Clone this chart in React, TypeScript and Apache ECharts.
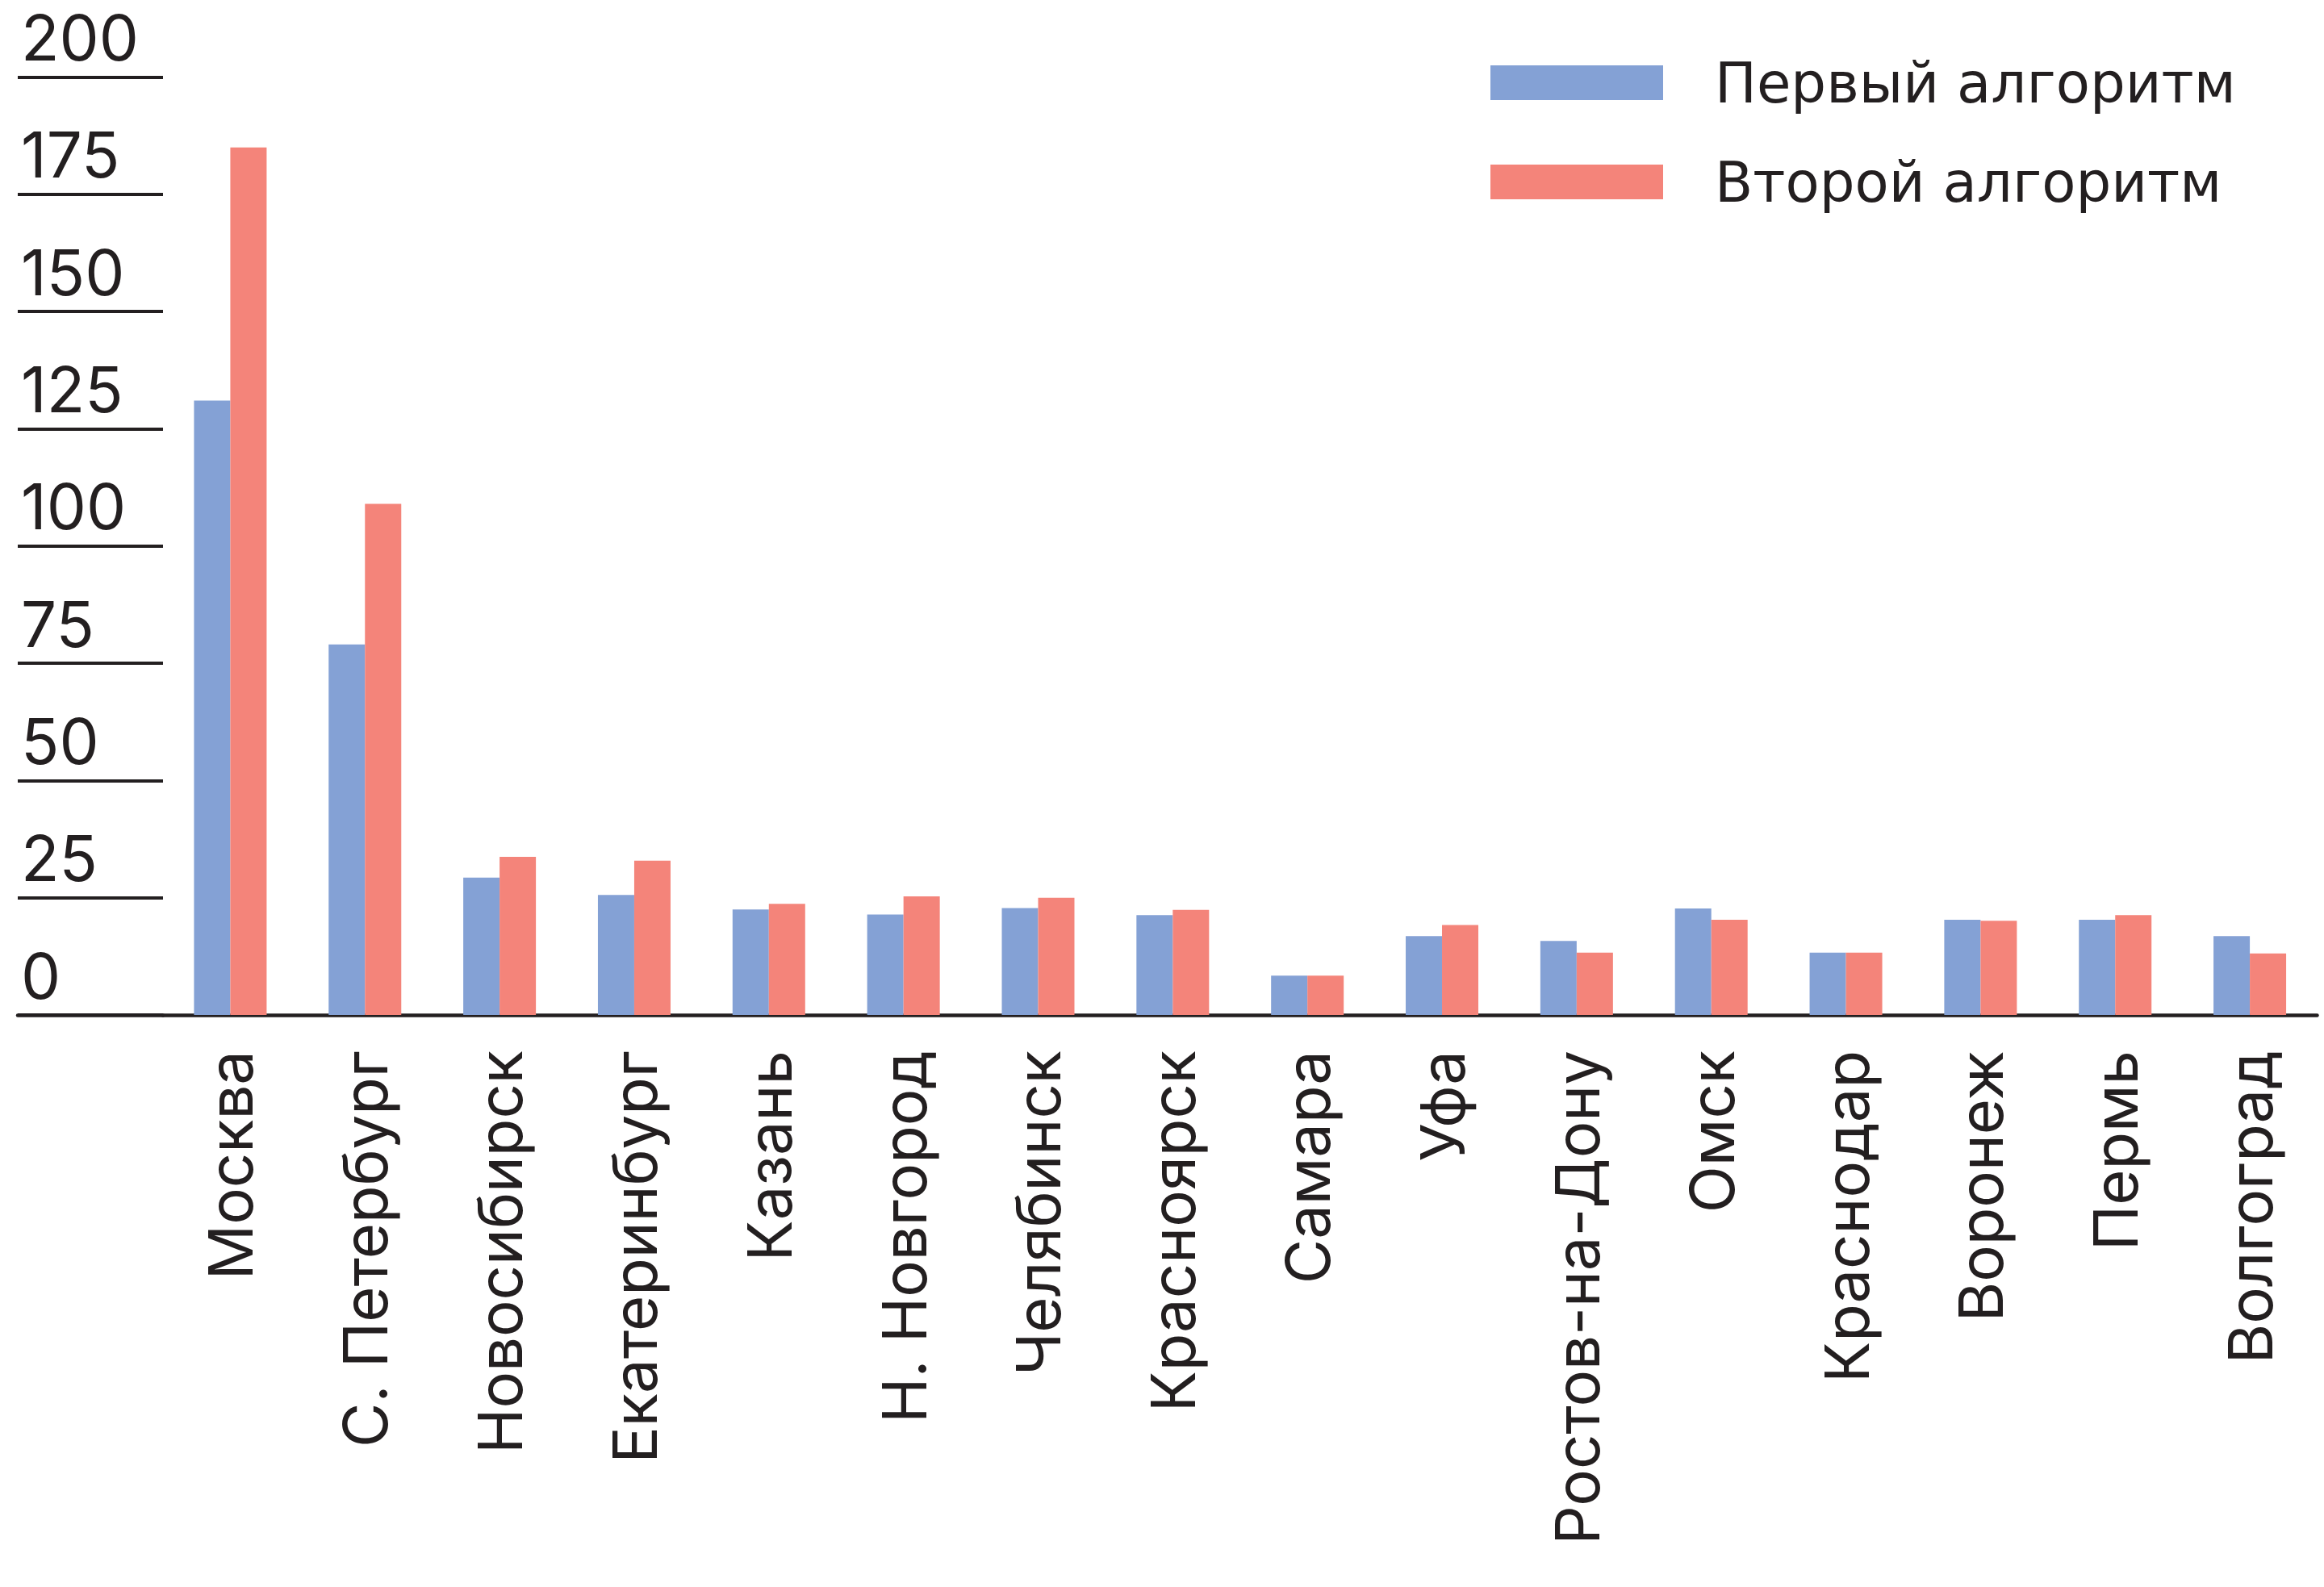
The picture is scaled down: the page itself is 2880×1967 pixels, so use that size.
import React, { useEffect, useRef } from "react";
import * as echarts from "echarts";

const categories = [
  "Москва",
  "С. Петербург",
  "Новосибирск",
  "Екатеринбург",
  "Казань",
  "Н. Новгород",
  "Челябинск",
  "Красноярск",
  "Самара",
  "Уфа",
  "Ростов-на-Дону",
  "Омск",
  "Краснодар",
  "Воронеж",
  "Пермь",
  "Волгоград",
];
const seriesNames = ["Первый алгоритм", "Второй алгоритм"];
const firstAlgo = [131, 79, 29.3, 25.6, 22.5, 21.4, 22.8, 21.3, 8.4, 16.8, 15.8, 22.7, 13.3, 20.3, 20.3, 16.8];
const secondAlgo = [185, 109, 33.7, 32.9, 23.7, 25.3, 25.0, 22.4, 8.4, 19.2, 13.3, 20.3, 13.3, 20.1, 21.3, 13.1];
const yMin = 0;
const yMax = 200;
const yStep = 25;

const INK = "#231F20";
const BLUE = "#84A1D5";
const RED = "#F4847A";

export default function App() {
  const ref = useRef<HTMLDivElement>(null);
  useEffect(() => {
    document.body.style.margin = "0";
    if (!ref.current) return;
    const chart = echarts.init(ref.current, undefined, { renderer: "svg" });
    const top = 95.5;
    const bottom = 709;
    chart.setOption({
      animation: false,
      backgroundColor: "#ffffff",
      textStyle: { fontFamily: "Inter" },
      legend: {
        orient: "vertical",
        left: 1847,
        top: 68,
        padding: 0,
        itemWidth: 214,
        itemHeight: 43,
        itemGap: 54,
        icon: "rect",
        data: seriesNames,
        textStyle: {
          fontFamily: "DejaVu Sans",
          fontSize: 69,
          color: INK,
          lineHeight: 43,
          padding: [0, 0, 0, 59],
        },
      },
      grid: [
        { left: 22, width: 180, top, bottom },
        { left: 202, right: 8.5, top, bottom },
      ],
      xAxis: [
        {
          gridIndex: 0,
          type: "category",
          data: [""],
          axisLine: { show: true, lineStyle: { color: INK, width: 4.5 } },
          axisTick: { show: false },
          axisLabel: { show: false },
        },
        {
          gridIndex: 1,
          type: "category",
          data: categories,
          axisLine: { show: true, lineStyle: { color: INK, width: 4.5 } },
          axisTick: { show: false },
          axisLabel: {
            interval: 0,
            rotate: 90,
            margin: 44,
            fontFamily: "Inter",
            fontSize: 76,
            color: INK,
          },
        },
      ],
      yAxis: [
        {
          gridIndex: 0,
          type: "value",
          min: yMin,
          max: yMax,
          interval: yStep,
          axisLine: { show: false },
          axisTick: { show: false },
          splitLine: { show: true, lineStyle: { color: INK, width: 4 } },
          axisLabel: {
            inside: true,
            margin: 4,
            align: "left",
            verticalAlign: "bottom",
            lineHeight: 70,
            padding: [0, 0, 14, 0],
            fontFamily: "Inter",
            fontSize: 78,
            color: INK,
          },
        },
        {
          gridIndex: 1,
          type: "value",
          min: yMin,
          max: yMax,
          interval: yStep,
          show: false,
          splitLine: { show: false },
        },
      ],
      series: [
        {
          name: seriesNames[0],
          type: "bar",
          xAxisIndex: 1,
          yAxisIndex: 1,
          data: firstAlgo,
          barWidth: 45,
          barGap: "0%",
          itemStyle: { color: BLUE },
        },
        {
          name: seriesNames[1],
          type: "bar",
          xAxisIndex: 1,
          yAxisIndex: 1,
          data: secondAlgo,
          barWidth: 45,
          barGap: "0%",
          itemStyle: { color: RED },
        },
      ],
    });
    return () => chart.dispose();
  }, []);
  return <div ref={ref} style={{ width: 2880, height: 1967 }} />;
}
